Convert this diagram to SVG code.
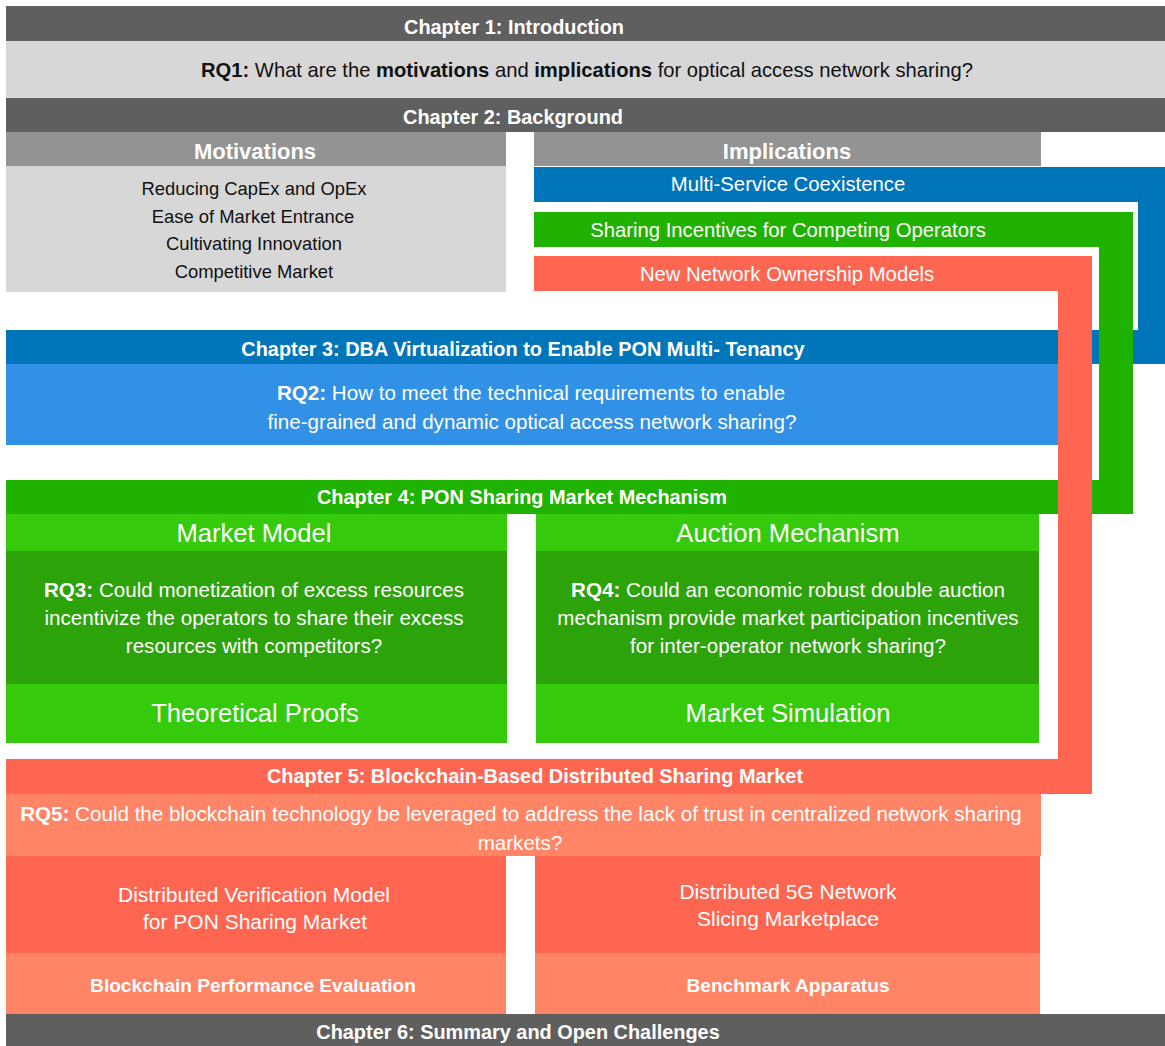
<svg xmlns="http://www.w3.org/2000/svg" width="1165" height="1046" viewBox="0 0 1165 1046">
  <style>
    text { font-family: "Liberation Sans", Arial, sans-serif; text-anchor: middle; }
    .ch { font-size: 19.9px; font-weight: bold; fill: #ffffff; }
    .rq { font-size: 20.6px; fill: #ffffff; }
    .rqd { font-size: 20.2px; fill: #111111; }
    .b { font-weight: bold; }
    .hd { font-size: 22px; font-weight: bold; fill: #ffffff; }
    .item { font-size: 18.4px; fill: #111111; }
    .imp { font-size: 20.3px; fill: #ffffff; }
    .sub { font-size: 25.6px; fill: #ffffff; }
    .box { font-size: 21px; fill: #ffffff; }
    .eval { font-size: 19.1px; font-weight: bold; fill: #ffffff; }
    .dark { fill: #5f5f5f; }
    .pale { fill: #d7d7d7; }
    .mid { fill: #939393; }
    .blue { fill: #0075b9; }
    .lblue { fill: #3191e6; }
    .green { fill: #1fb200; }
    .lgreen { fill: #35cb0c; }
    .dgreen { fill: #2ca309; }
    .red { fill: #ff6651; }
    .salmon { fill: #ff8566; }
  </style>

  <!-- Chapter 1 -->
  <g id="ch1">
    <rect class="dark" x="6" y="6" width="1159" height="35"/>
    <text class="ch" x="514" y="34">Chapter 1: Introduction</text>
  </g>
  <g id="rq1">
    <rect class="pale" x="6" y="41" width="1159" height="57"/>
    <text class="rqd" x="587" y="77"><tspan class="b">RQ1:</tspan> What are the <tspan class="b">motivations</tspan> and <tspan class="b">implications</tspan> for optical access network sharing?</text>
  </g>

  <!-- Chapter 2 -->
  <g id="ch2">
    <rect class="dark" x="6" y="98" width="1159" height="34"/>
    <text class="ch" x="513" y="124">Chapter 2: Background</text>
  </g>
  <g id="motivations">
    <rect class="mid" x="6" y="132" width="500" height="34"/>
    <rect class="pale" x="6" y="166" width="500" height="126"/>
    <text class="hd" x="255" y="159">Motivations</text>
    <text class="item" x="254" y="195">Reducing CapEx and OpEx</text>
    <text class="item" x="253" y="223">Ease of Market Entrance</text>
    <text class="item" x="254" y="250">Cultivating Innovation</text>
    <text class="item" x="254" y="278">Competitive Market</text>
  </g>
  <g id="implications">
    <rect class="mid" x="534" y="132" width="507" height="34"/>
    <text class="hd" x="787" y="159">Implications</text>
  </g>
  <g id="imp-coexistence">
    <rect class="blue" x="534" y="167" width="507" height="35"/>
    <text class="imp" x="788" y="191">Multi-Service Coexistence</text>
  </g>
  <g id="imp-incentives">
    <rect class="green" x="534" y="212" width="507" height="35"/>
    <text class="imp" x="788" y="237">Sharing Incentives for Competing Operators</text>
  </g>
  <g id="imp-ownership">
    <rect class="red" x="534" y="256" width="507" height="35"/>
    <text class="imp" x="787" y="281">New Network Ownership Models</text>
  </g>

  <!-- Chapter 3 -->
  <g id="ch3">
    <rect class="blue" x="6" y="330" width="1052" height="34"/>
    <rect class="lblue" x="6" y="364" width="1052" height="81"/>
    <text class="ch" x="523" y="356">Chapter 3: DBA Virtualization to Enable PON Multi- Tenancy</text>
    <text class="rq" x="531" y="400"><tspan class="b">RQ2:</tspan> How to meet the technical requirements to enable</text>
    <text class="rq" x="532" y="429">fine-grained and dynamic optical access network sharing?</text>
  </g>

  <!-- Chapter 4 -->
  <g id="ch4">
    <rect class="green" x="6" y="480" width="1033" height="34"/>
    <text class="ch" x="522" y="504">Chapter 4: PON Sharing Market Mechanism</text>
  </g>
  <g id="market-model">
    <rect class="lgreen" x="6" y="514" width="501" height="37"/>
    <rect class="dgreen" x="6" y="551" width="501" height="133"/>
    <rect class="lgreen" x="6" y="684" width="501" height="59"/>
    <text class="sub" x="254" y="542">Market Model</text>
    <text class="rq" x="254" y="597"><tspan class="b">RQ3:</tspan> Could monetization of excess resources</text>
    <text class="rq" x="254" y="625">incentivize the operators to share their excess</text>
    <text class="rq" x="254" y="653">resources with competitors?</text>
    <text class="sub" x="255" y="722">Theoretical Proofs</text>
  </g>
  <g id="auction-mechanism">
    <rect class="lgreen" x="536" y="514" width="503" height="37"/>
    <rect class="dgreen" x="536" y="551" width="503" height="133"/>
    <rect class="lgreen" x="536" y="684" width="503" height="59"/>
    <text class="sub" x="788" y="542">Auction Mechanism</text>
    <text class="rq" x="788" y="597"><tspan class="b">RQ4:</tspan> Could an economic robust double auction</text>
    <text class="rq" x="788" y="625">mechanism provide market participation incentives</text>
    <text class="rq" x="788" y="653">for inter-operator network sharing?</text>
    <text class="sub" x="788" y="722">Market Simulation</text>
  </g>

  <!-- Chapter 5 -->
  <g id="ch5">
    <rect class="red" x="6" y="759" width="1035" height="35"/>
    <rect class="salmon" x="6" y="794" width="1035" height="62"/>
    <text class="ch" x="535" y="783">Chapter 5: Blockchain-Based Distributed Sharing Market</text>
    <text class="rq" x="521" y="821"><tspan class="b">RQ5:</tspan> Could the blockchain technology be leveraged to address the lack of trust in centralized network sharing</text>
    <text class="rq" x="520" y="850">markets?</text>
  </g>
  <g id="verification-model">
    <rect class="red" x="6" y="856" width="500" height="97"/>
    <rect class="salmon" x="6" y="953" width="500" height="61"/>
    <text class="box" x="254" y="902">Distributed Verification Model</text>
    <text class="box" x="255" y="929">for PON Sharing Market</text>
    <text class="eval" x="253" y="992">Blockchain Performance Evaluation</text>
  </g>
  <g id="slicing-marketplace">
    <rect class="red" x="535" y="856" width="505" height="97"/>
    <rect class="salmon" x="535" y="953" width="505" height="61"/>
    <text class="box" x="788" y="899">Distributed 5G Network</text>
    <text class="box" x="788" y="926">Slicing Marketplace</text>
    <text class="eval" x="788" y="992">Benchmark Apparatus</text>
  </g>

  <!-- Chapter 6 -->
  <g id="ch6">
    <rect class="dark" x="6" y="1014" width="1159" height="32"/>
    <text class="ch" x="518" y="1039">Chapter 6: Summary and Open Challenges</text>
  </g>

  <!-- Connectors: implication bars routed to their chapters -->
  <g id="connectors">
    <polygon class="blue" points="1041,167 1165,167 1165,364 1041,364 1041,330 1138,330 1138,202 1041,202"/>
    <polygon class="green" points="1041,212 1133,212 1133,514 1039,514 1039,480 1099,480 1099,247 1041,247"/>
    <polygon class="red" points="1041,256 1092,256 1092,794 1041,794 1041,759 1058,759 1058,291 1041,291"/>
  </g>
</svg>
